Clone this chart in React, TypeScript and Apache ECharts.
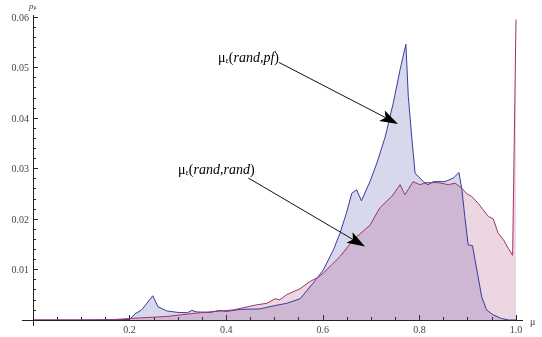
import React, { useEffect, useRef } from 'react';
import * as echarts from 'echarts';

// μ_ε(rand,pf) — blue series
const blueMu = [0, 0.1, 0.2, 0.211, 0.225, 0.248, 0.259, 0.277, 0.3, 0.32, 0.329, 0.339, 0.366, 0.387, 0.4, 0.429, 0.47, 0.4975, 0.525, 0.553, 0.58, 0.601, 0.622, 0.636, 0.649, 0.66, 0.67, 0.68, 0.698, 0.712, 0.729, 0.746, 0.76, 0.772, 0.777, 0.784, 0.791, 0.808, 0.818, 0.829, 0.836, 0.853, 0.87, 0.882, 0.888, 0.894, 0.901, 0.91, 0.919, 0.929, 0.939, 0.953, 0.97, 0.985, 1.0];
const blueP = [0, 0, 0.0001, 0.0012, 0.002, 0.0048, 0.0026, 0.0018, 0.0015, 0.00145, 0.0019, 0.0016, 0.0015, 0.0019, 0.0017, 0.0021, 0.0022, 0.0028, 0.0033, 0.0042, 0.0073, 0.0099, 0.0139, 0.0173, 0.0212, 0.0251, 0.0258, 0.0236, 0.0275, 0.0311, 0.0362, 0.043, 0.0496, 0.0546, 0.0443, 0.0364, 0.0291, 0.0274, 0.0268, 0.0274, 0.0274, 0.0274, 0.0281, 0.0292, 0.0258, 0.0205, 0.0149, 0.0147, 0.0099, 0.0046, 0.002, 0.001, 0.0003, 0, 0];

// μ_ε(rand,rand) — crimson series
const pinkMu = [0, 0.15, 0.17, 0.2, 0.277, 0.346, 0.415, 0.463, 0.484, 0.501, 0.511, 0.525, 0.553, 0.573, 0.591, 0.601, 0.618, 0.636, 0.663, 0.698, 0.718, 0.743, 0.76, 0.77, 0.787, 0.801, 0.815, 0.832, 0.839, 0.86, 0.874, 0.888, 0.898, 0.908, 0.922, 0.932, 0.943, 0.953, 0.963, 0.974, 0.984, 0.993, 1.0];
const pinkP = [0, 0, 0.0001, 0.0003, 0.0007, 0.00145, 0.002, 0.003, 0.0033, 0.0042, 0.004, 0.005, 0.0062, 0.0076, 0.0085, 0.0093, 0.0109, 0.0126, 0.0159, 0.0188, 0.0222, 0.0245, 0.0268, 0.0248, 0.0274, 0.0268, 0.0272, 0.0272, 0.0272, 0.0268, 0.0271, 0.0261, 0.025, 0.0245, 0.0231, 0.0218, 0.0205, 0.02, 0.0172, 0.0159, 0.0142, 0.0128, 0.0595];

const xMin = 0, xMax = 1, xInterval = 0.2;
const yMin = 0, yMax = 0.06, yInterval = 0.01;

// annotation anchors in data coordinates [μ, p]
const ann1Text = [0.383, 0.0522];
const ann1Start = [0.5093, 0.0510];
const ann1Tip = [0.7557, 0.0388];
const ann2Text = [0.3002, 0.02996];
const ann2Start = [0.4458, 0.02812];
const ann2Tip = [0.6874, 0.01454];

const SERIF = 'Liberation Serif, Times New Roman, serif';
const BLUE = '#3a3aa2';
const CRIMSON = '#a2336c';

function arrow(start: number[], tip: number[]) {
  const dx = tip[0] - start[0], dy = tip[1] - start[1];
  const len = Math.hypot(dx, dy);
  const ux = dx / len, uy = dy / len;
  const px = -uy, py = ux;
  const L = 18, W = 6, N = 4;
  const bx = tip[0] - L * ux, by = tip[1] - L * uy;
  const w1 = [bx + W * px, by + W * py];
  const w2 = [bx - W * px, by - W * py];
  const notch = [bx + N * ux, by + N * uy];
  return [
    { type: 'line', shape: { x1: start[0], y1: start[1], x2: notch[0], y2: notch[1] }, style: { stroke: '#111', lineWidth: 1 }, z: 100 },
    { type: 'polygon', shape: { points: [tip, w1, notch, w2] }, style: { fill: '#000' }, z: 100 },
  ];
}

function label(pos: number[], second: string) {
  return {
    type: 'text',
    x: pos[0],
    y: pos[1],
    z: 100,
    style: {
      text: `{m|μ}{s|ε}{n|(}{i|rand}{n|,}{i|${second}}{n|)}`,
      verticalAlign: 'middle',
      rich: {
        m: { fontFamily: SERIF, fontSize: 14, fill: '#000', verticalAlign: 'bottom', lineHeight: 16 },
        s: { fontFamily: SERIF, fontSize: 8, fill: '#000', verticalAlign: 'bottom', lineHeight: 16 },
        n: { fontFamily: SERIF, fontSize: 14, fill: '#000', verticalAlign: 'bottom', lineHeight: 16 },
        i: { fontFamily: SERIF, fontSize: 14, fontStyle: 'italic', fill: '#000', verticalAlign: 'bottom', lineHeight: 16 },
      },
    },
  };
}

export default function App() {
  const ref = useRef<HTMLDivElement>(null);
  useEffect(() => {
    const chart = echarts.init(ref.current!, null, { renderer: 'svg' });
    const axisColor = '#222';
    const option: any = {
      animation: false,
      grid: { left: 33, right: 26, top: 17, bottom: 17 },
      xAxis: {
        type: 'value', min: xMin, max: xMax, interval: xInterval,
        axisLine: { lineStyle: { color: axisColor, width: 1 } },
        axisTick: { inside: true, length: 5, lineStyle: { color: axisColor } },
        minorTick: { show: true, splitNumber: 4, length: 3, lineStyle: { color: axisColor } },
        splitLine: { show: false },
        axisLabel: {
          fontFamily: SERIF, fontSize: 10, color: '#444', margin: 4,
          formatter: (v: number) => (v === 0 ? '' : v.toFixed(1)),
        },
      },
      yAxis: {
        type: 'value', min: yMin, max: yMax, interval: yInterval,
        axisLine: { show: true, lineStyle: { color: axisColor, width: 1 } },
        axisTick: { show: true, inside: true, length: 5, lineStyle: { color: axisColor } },
        minorTick: { show: true, splitNumber: 5, length: 3, lineStyle: { color: axisColor } },
        splitLine: { show: false },
        axisLabel: {
          fontFamily: SERIF, fontSize: 10, color: '#444', margin: 4,
          formatter: (v: number) => (v === 0 ? '' : v.toFixed(2)),
        },
      },
      series: [
        {
          name: 'rand,pf', type: 'line', symbol: 'none',
          data: blueMu.map((m, i) => [m, blueP[i]]),
          lineStyle: { color: BLUE, width: 1 },
          areaStyle: { color: '#3c3ca0', opacity: 0.2 },
        },
        {
          name: 'rand,rand', type: 'line', symbol: 'none',
          data: pinkMu.map((m, i) => [m, pinkP[i]]),
          lineStyle: { color: CRIMSON, width: 1 },
          areaStyle: { color: '#a0306a', opacity: 0.2 },
        },
      ],
    };
    chart.setOption(option);

    const toPx = (p: number[]) => chart.convertToPixel({ gridIndex: 0 }, p) as number[];
    const origin = toPx([0, 0]);
    const xEnd = toPx([xMax, 0]);
    const yTop = toPx([0, yMax]);

    const graphic: any[] = [
      // axis extensions (Mathematica-style crossing axes)
      { type: 'line', shape: { x1: origin[0] - 11, y1: origin[1] + 0.5, x2: xEnd[0] + 7, y2: origin[1] + 0.5 }, style: { stroke: axisColor, lineWidth: 1 }, z: 50 },
      { type: 'line', shape: { x1: origin[0] + 0.5, y1: yTop[1] - 2, x2: origin[0] + 0.5, y2: origin[1] + 6 }, style: { stroke: axisColor, lineWidth: 1 }, z: 50 },
      // axis names
      { type: 'text', x: xEnd[0] + 14, y: origin[1] + 1, z: 50, style: { text: 'μ', fontFamily: SERIF, fontSize: 10, fill: '#444', verticalAlign: 'middle' } },
      {
        type: 'text', x: origin[0] - 4, y: yTop[1] - 17, z: 50,
        style: {
          text: '{p|p}{s|μ}',
          rich: {
            p: { fontFamily: SERIF, fontSize: 9, fontStyle: 'italic', fill: '#444', verticalAlign: 'bottom', lineHeight: 10 },
            s: { fontFamily: SERIF, fontSize: 6, fill: '#444', verticalAlign: 'bottom', lineHeight: 10 },
          },
        },
      },
      label(toPx(ann1Text), 'pf'),
      label(toPx(ann2Text), 'rand'),
      ...arrow(toPx(ann1Start), toPx(ann1Tip)),
      ...arrow(toPx(ann2Start), toPx(ann2Tip)),
    ];
    chart.setOption({ graphic });
    return () => chart.dispose();
  }, []);
  return <div ref={ref} style={{ position: 'fixed', left: 0, top: 0, width: 542, height: 337 }} />;
}
